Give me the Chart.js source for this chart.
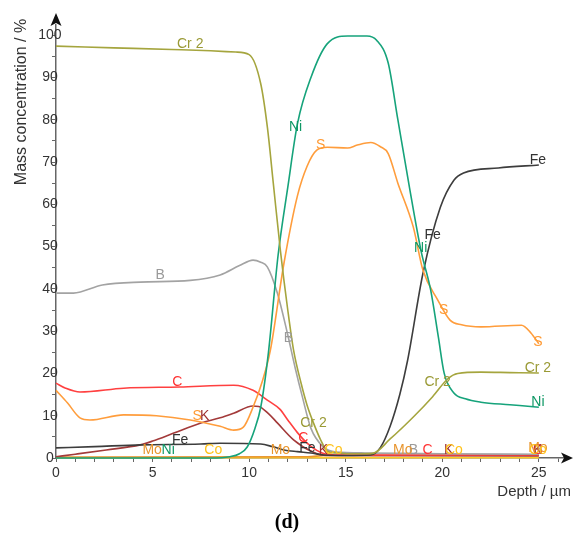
<!DOCTYPE html>
<html><head><meta charset="utf-8">
<script src="https://cdn.jsdelivr.net/npm/chart.js@4.4.1/dist/chart.umd.min.js"></script>
<style>html,body{margin:0;padding:0;background:#fff}#wrap{width:573px;height:543px}</style>
</head><body><div id="wrap"><canvas id="c" width="573" height="543"></canvas></div>
<script>
// ---- Data (depth in µm, mass concentration in %) ----
const crDepth = [0, 3, 6, 8, 9.3, 10.0, 10.6, 10.95, 11.25, 11.62, 12.0, 12.3, 12.7, 13.0, 13.33, 13.7, 14.05, 14.5, 15.5, 16.4, 17.3, 18.5, 19.5, 20.3, 20.8, 22, 23.5, 25];
const crVal   = [97.4, 97.0, 96.6, 96.3, 96.0, 95.4, 88.5, 78, 65, 49, 35, 25.5, 17.5, 12.5, 8.3, 4.3, 1.6, 1.2, 1.0, 1.1, 4.5, 9.7, 14.5, 18.8, 20, 20.3, 20.2, 20.1];

const niDepth = [0, 8, 9, 9.5, 9.9, 10.3, 10.6, 11.0, 11.5, 12.0, 12.5, 13.2, 14.05, 15.1, 16.1, 16.6, 17.2, 17.7, 18.3, 18.9, 19.4, 19.8, 20.1, 20.6, 21.2, 22, 23.5, 25];
const niVal   = [0, 0, 0.3, 1, 2.6, 7, 12, 25, 48, 64, 79, 90, 98, 99.8, 99.8, 98.8, 93.4, 80, 64, 49, 39.7, 28.5, 20, 15.4, 14, 13.2, 12.6, 12];

const sDepth = [0, 0.6, 1.24, 1.76, 3.5, 5.2, 6.95, 8.5, 9.2, 9.7, 10.2, 10.7, 11.1, 11.8, 12.5, 13.0, 13.5, 14.05, 15.1, 15.6, 16.3, 16.8, 17.2, 17.7, 18.5, 19.0, 19.76, 20.4, 21, 22, 24.1, 24.6, 25];
const sVal   = [16, 13, 9.5, 9, 10.2, 10, 9, 7.5, 6.6, 7.3, 12, 18.4, 25.5, 46, 62, 69, 72.8, 73.5, 73.3, 74, 74.6, 73.6, 72, 65, 54.6, 44.4, 37.4, 32.6, 31.5, 31, 31.4, 29.5, 27];

const feDepth = [0, 2, 4.4, 7.5, 8.5, 10.6, 11.2, 11.8, 12.5, 13.2, 13.85, 15, 16.3, 16.8, 17.3, 17.8, 18.2, 19.0, 19.9, 20.6, 21.1, 22.9, 25];
const feVal   = [2.4, 2.7, 3.1, 3.3, 3.5, 3.3, 2.7, 1.9, 1.5, 1.2, 0.7, 0.6, 0.7, 2.5, 7.5, 15, 23, 43.7, 59.3, 65.7, 67.4, 68.6, 69.3];

const bDepth = [0, 0.9, 2.4, 4.36, 6.95, 8.5, 9.5, 10.2, 10.6, 10.94, 11.46, 11.98, 12.4, 12.76, 13.2, 13.8, 14.5, 16, 20, 25];
const bVal   = [39, 39, 40.9, 41.6, 42, 43.3, 45.5, 46.8, 46.3, 45.2, 39, 29.5, 21, 14.4, 7, 2.8, 1.4, 1.2, 1.0, 0.9];

const cDepth = [0, 0.5, 1.24, 3.5, 6.4, 9.2, 10.2, 10.94, 11.6, 12.0, 12.5, 13.0, 13.5, 14, 15, 25];
const cVal   = [17.7, 16.5, 15.6, 16.5, 16.8, 17.2, 16, 13.7, 11.5, 9, 6, 3.5, 1.8, 0.9, 0.7, 0.7];

const kDepth = [0, 1, 2.6, 4.36, 5, 6.1, 7.5, 8.5, 9.2, 10.2, 10.5, 11.0, 11.46, 12.3, 13.3, 14, 25];
const kVal   = [0.3, 0.9, 1.9, 3.1, 4, 5.9, 8.3, 9.5, 10.6, 12.3, 12.2, 10.5, 8.3, 4.3, 1.4, 0.6, 0.5];

const moDepth = [0, 13, 14, 25];
const moVal   = [0.2, 0.3, 0.6, 0.6];

const coDepth = [0, 25];
const coVal   = [0.05, 0.05];

// curve labels (depth, value) per element
const crLabDepth = [6.95, 13.33, 19.76, 24.95], crLabVal = [97.9, 8.3, 18.0, 21.3];
const niLabDepth = [5.81, 12.4, 18.88, 24.95],  niLabVal = [1.9, 78.3, 49.6, 13.2];
const sLabDepth  = [7.31, 13.7, 20.07, 24.95],  sLabVal  = [9.9, 74, 35, 27.4];
const feLabDepth = [6.43, 13.02, 19.5, 24.95],  feLabVal = [4.3, 2.4, 52.7, 70.4];
const bLabDepth  = [5.39, 12.03, 18.5, 24.95],  bLabVal  = [43.3, 28.4, 1.9, 1.9];
const cLabDepth  = [6.28, 12.81, 19.24, 24.95], cLabVal  = [18, 4.7, 1.9, 1.9];
const kLabDepth  = [7.7, 13.85, 20.33, 24.95],  kLabVal  = [9.9, 1.9, 1.9, 1.9];
const moLabDepth = [4.98, 11.62, 17.95, 24.95], moLabVal = [1.9, 1.9, 1.9, 2.4];
const coLabDepth = [8.14, 14.37, 20.6, 24.95],  coLabVal = [1.9, 1.9, 1.9, 1.9];

// axis ticks
const xTickValues = [0,1,2,3,4,5,6,7,8,9,10,11,12,13,14,15,16,17,18,19,20,21,22,23,24,25,26];
const xTickLabels = [0,5,10,15,20,25];
const yTickValues = [0,5,10,15,20,25,30,35,40,45,50,55,60,65,70,75,80,85,90,95,100];
const yTickLabels = [0,10,20,30,40,50,60,70,80,90,100];

const FONT = "'Liberation Sans', Arial, Helvetica, sans-serif";

function pts(xs, ys){ return xs.map((x,i)=>({x:x, y:ys[i]})); }

const series = [
  {name:'Cr 2', d:crDepth, v:crVal, color:'#a5a53e', text:'#9a9a35', lx:crLabDepth, ly:crLabVal},
  {name:'Ni',   d:niDepth, v:niVal, color:'#16a37b', text:'#0f9865', lx:niLabDepth, ly:niLabVal},
  {name:'S',    d:sDepth,  v:sVal,  color:'#ff9d3c', text:'#ff9a33', lx:sLabDepth,  ly:sLabVal},
  {name:'Fe',   d:feDepth, v:feVal, color:'#3d3d3d', text:'#333333', lx:feLabDepth, ly:feLabVal},
  {name:'B',    d:bDepth,  v:bVal,  color:'#a3a3a3', text:'#9a9a9a', lx:bLabDepth,  ly:bLabVal},
  {name:'C',    d:cDepth,  v:cVal,  color:'#ff4040', text:'#ff3333', lx:cLabDepth,  ly:cLabVal},
  {name:'K',    d:kDepth,  v:kVal,  color:'#a33a3a', text:'#9e3030', lx:kLabDepth,  ly:kLabVal},
  {name:'Mo',   d:moDepth, v:moVal, color:'#e8952e', text:'#e8952e', lx:moLabDepth, ly:moLabVal},
  {name:'Co',   d:coDepth, v:coVal, color:'#ffcc22', text:'#ffc21a', lx:coLabDepth, ly:coLabVal}
];

const curveLabels = {
  id:'curveLabels',
  afterDatasetsDraw(chart){
    const ctx = chart.ctx, xs = chart.scales.x, ys = chart.scales.y;
    ctx.save();
    ctx.font = '14px ' + FONT;
    ctx.textAlign = 'center';
    ctx.textBaseline = 'middle';
    series.forEach(s=>{
      ctx.fillStyle = s.text;
      s.lx.forEach((d,i)=>{
        ctx.fillText(s.name, xs.getPixelForValue(d), ys.getPixelForValue(s.ly[i]));
      });
    });
    ctx.restore();
  }
};

const axesDecor = {
  id:'axesDecor',
  afterDraw(chart){
    const ctx = chart.ctx, a = chart.chartArea;
    ctx.save();
    ctx.fillStyle = '#111';
    // y arrow
    ctx.beginPath();
    ctx.moveTo(a.left, a.top - 12);
    ctx.lineTo(a.left - 5.5, a.top + 1);
    ctx.lineTo(a.left, a.top - 2);
    ctx.lineTo(a.left + 5.5, a.top + 1);
    ctx.closePath(); ctx.fill();
    // x arrow
    ctx.beginPath();
    ctx.moveTo(a.right + 10, a.bottom);
    ctx.lineTo(a.right - 2, a.bottom - 5.5);
    ctx.lineTo(a.right + 1, a.bottom);
    ctx.lineTo(a.right - 2, a.bottom + 5.5);
    ctx.closePath(); ctx.fill();
    // axis titles
    ctx.fillStyle = '#333';
    ctx.font = '16px ' + FONT;
    ctx.save();
    ctx.translate(22, 102);
    ctx.rotate(-Math.PI/2);
    ctx.textAlign = 'center'; ctx.textBaseline = 'middle';
    ctx.fillText('Mass concentration / %', 0, 0);
    ctx.restore();
    ctx.font = '15px ' + FONT;
    ctx.textAlign = 'right'; ctx.textBaseline = 'middle';
    ctx.fillText('Depth / µm', 571, 492);
    ctx.fillStyle = '#000';
    ctx.font = 'bold 20px "Liberation Serif", "Times New Roman", serif';
    ctx.textAlign = 'center';
    ctx.fillText('(d)', 287, 523);
    ctx.restore();
  }
};

new Chart(document.getElementById('c'), {
  type:'line',
  data:{
    datasets: series.map(s=>({
      label:s.name,
      data:pts(s.d, s.v),
      borderColor:s.color,
      backgroundColor:s.color,
      borderWidth:1.6,
      pointRadius:0,
      fill:false,
      cubicInterpolationMode:'monotone',
      clip:false
    }))
  },
  options:{
    responsive:false,
    animation:false,
    events:[],
    layout:{padding:{left:0, right:10, top:25, bottom:0}},
    plugins:{legend:{display:false}, tooltip:{enabled:false}, title:{display:false}},
    scales:{
      x:{
        type:'linear', min:0, max:26.25,
        afterBuildTicks(scale){ scale.ticks = xTickValues.map(v=>({value:v})); },
        afterFit(scale){ scale.height = 85; },
        grid:{drawOnChartArea:false, drawTicks:true, tickLength:4, color:'#666', lineWidth:1},
        border:{display:true, color:'#666', width:1.5},
        ticks:{
          autoSkip:false, maxRotation:0, padding:3, color:'#333',
          font:{family:FONT, size:14},
          callback(v){ return xTickLabels.includes(v) ? String(v) : ''; }
        }
      },
      y:{
        type:'linear', min:0, max:102.4,
        afterBuildTicks(scale){ scale.ticks = yTickValues.map(v=>({value:v})); },
        afterFit(scale){ scale.width = 56; },
        grid:{drawOnChartArea:false, drawTicks:true, tickLength:4, color:'#666', lineWidth:1},
        border:{display:true, color:'#666', width:1.5},
        ticks:{
          autoSkip:false, mirror:true, padding:-17.7, crossAlign:'center', color:'#333',
          font:{family:FONT, size:14},
          callback(v){ return yTickLabels.includes(v) ? String(v) : ''; }
        }
      }
    }
  },
  plugins:[curveLabels, axesDecor]
});
</script>
</body></html>
